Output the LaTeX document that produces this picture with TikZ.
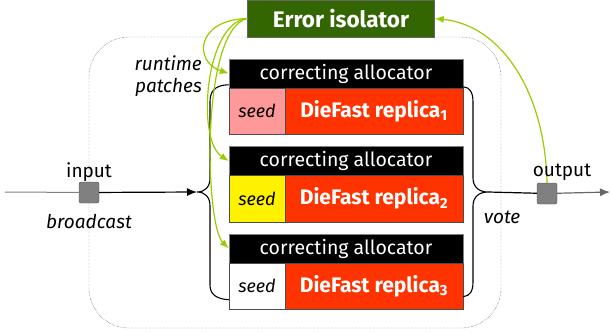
\documentclass[tikz,border=0pt]{standalone}
\usepackage{fontspec}
\setmainfont{Fira Sans}
\usetikzlibrary{arrows.meta}
\definecolor{isogreen}{HTML}{336600}
\definecolor{patchgreen}{HTML}{99CC00}
\definecolor{dfred}{HTML}{FF3300}
\definecolor{seedpink}{HTML}{FF9999}
\tikzset{
	hdr/.style={fill=black, draw=gray, text=white, minimum width=234pt, minimum height=29pt, inner sep=0pt, font=\fontsize{19.5}{19.5}\selectfont},
	seedcell/.style={draw=black!70, minimum width=56pt, minimum height=46.5pt, inner sep=0pt, font=\fontsize{18}{18}\selectfont\itshape},
	repcell/.style={fill=dfred, draw=black!70, text=white, minimum width=178pt, minimum height=46.5pt, inner sep=0pt, font=\fontsize{21}{21}\selectfont\bfseries},
	port/.style={fill=gray, draw=black!70, rounded corners=2pt, minimum width=20pt, minimum height=21pt, inner sep=0pt},
	patch/.style={patchgreen, line width=1.2pt, -{Latex[length=9pt,width=7pt]}},
	lbl/.style={font=\fontsize{19}{19}\selectfont, inner sep=0pt}
}
\begin{document}
\begin{tikzpicture}[x=1pt, y=-1pt]
		\useasboundingbox (0,0) rectangle (610,332);

		\draw[black!80, densely dotted, rounded corners=40pt] (89,37) rectangle (501,328);

		\node[fill=isogreen, draw=black!60, text=white, minimum width=187pt, minimum height=37pt, inner sep=0pt, font=\fontsize{22.5}{22.5}\selectfont\bfseries] (iso) at (341,18.5) {Error isolator};

		\foreach \i/\c in {1/seedpink, 2/yellow, 3/white} {
			\pgfmathsetmacro\yy{87.5*(\i-1)}
			\node[hdr] (hdr\i) at (346,{73.5+\yy}) {correcting allocator};
			\node[seedcell, fill=\c] (seed\i) at (257,{111.25+\yy}) {seed};
			\node[repcell] (rep\i) at (374,{111.25+\yy}) {DieFast replica\textsubscript{\i}};
		}

		\coordinate (src) at (5,192);
		\coordinate (bin) at (197,192);
		\coordinate (bout) at (488,192);
		\coordinate (dst) at (610,192);

		\node[port] (in) at (89,192.5) {};
		\node[port] (out) at (547,193.5) {};

		\draw[gray, line width=1pt] (src) -- (in);
		\draw[line width=1.2pt, -{Latex[length=10pt,width=8pt]}] (in) -- (bin);

		% broadcast brace
		\draw[line width=1.1pt] ([yshift=3pt]seed1.north west) .. controls (214,85) and (210,92) .. (210,102) -- (210,178)
			.. controls (210,187) and (205,192) .. (bin)
			.. controls (205,192) and (210,197) .. (210,206) -- (210,285)
			.. controls (210,294) and (216,299) .. ([yshift=10pt]seed3.south west);

		% vote brace
		\draw[line width=1.1pt] ([yshift=1pt]rep1.north east) .. controls (470,87) and (473,93) .. (473,102) -- (473,178)
			.. controls (473,187) and (479,192) .. (bout)
			.. controls (479,192) and (473,197) .. (473,206) -- (473,282)
			.. controls (473,291) and (470,296) .. ([yshift=13pt]rep3.south east);

		\draw[line width=1.2pt] (bout) -- (out);
		\draw[black!60, line width=1.2pt, -{Latex[length=10pt,width=8pt]}] (out) -- (dst);

		\draw[patch] (iso.west) .. controls (195,20) and (194,62) .. (hdr1.west);
		\draw[patch] (iso.west) .. controls (205,22) and (196,140) .. (hdr2.west);
		\draw[patch] (iso.west) .. controls (200,30) and (205,225) .. (hdr3.west);
		\draw[patch] (out.north) .. controls (545,90) and (500,25) .. (iso.east);

		\node[lbl] (inlbl) at (89,172) {input};
		\node[lbl, font=\fontsize{19}{19}\selectfont\itshape] (bclbl) at (89,221) {broadcast};
		\node[lbl] (outlbl) at (562,172) {output};
		\node[lbl, font=\fontsize{19}{19}\selectfont\itshape] (votelbl) at (502,217) {vote};
		\node[lbl, font=\fontsize{19}{22}\selectfont\itshape, align=right, anchor=east] (patchlbl) at (202,76) {runtime\\patches};
	\end{tikzpicture}
\end{document}
